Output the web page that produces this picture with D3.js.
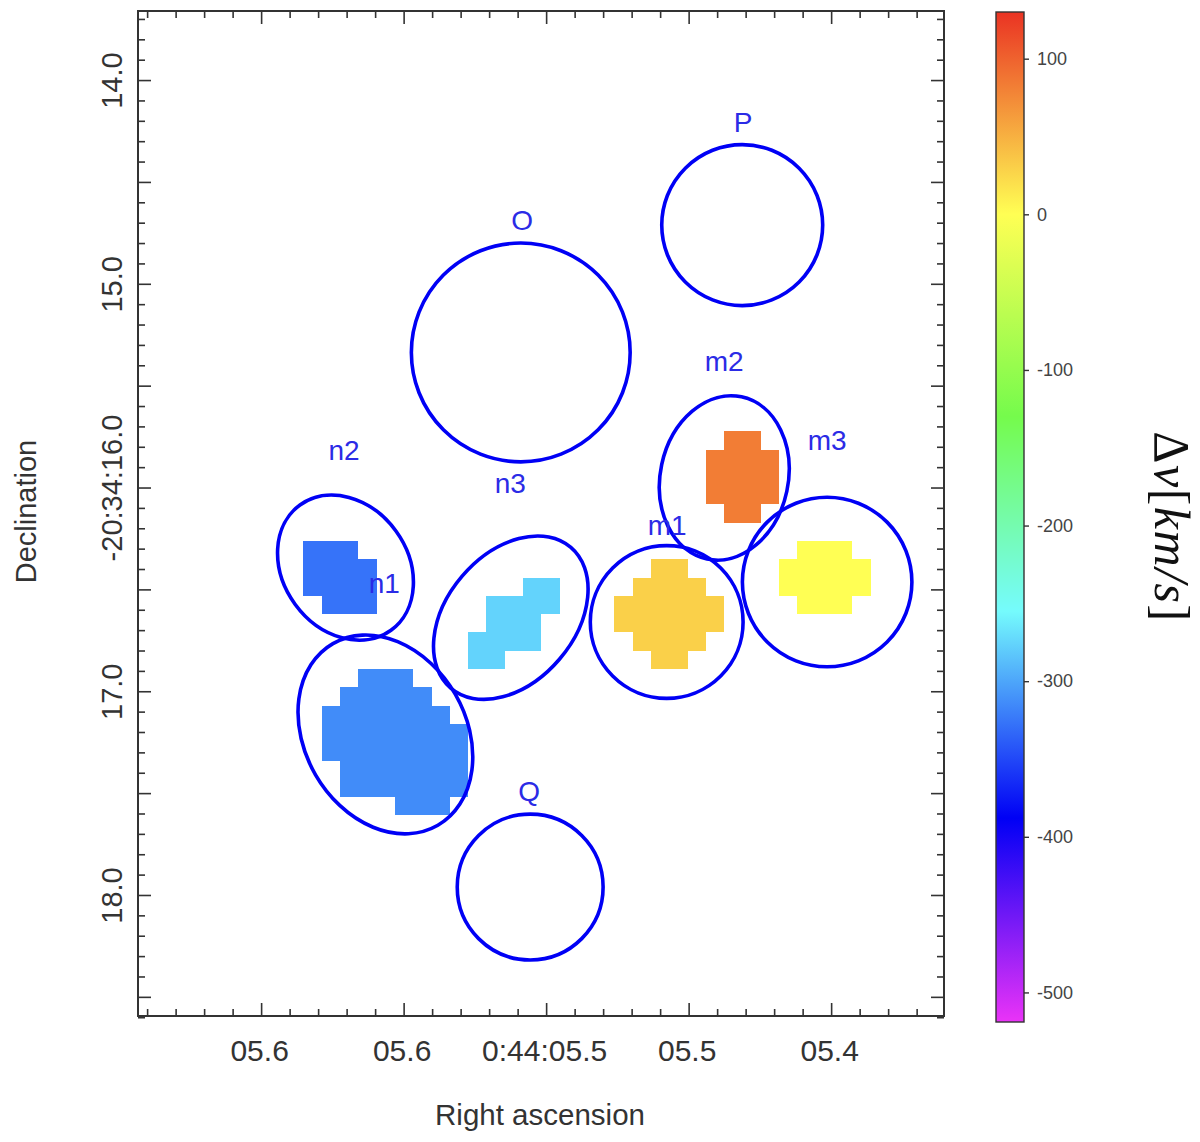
<!DOCTYPE html>
<html>
<head>
<meta charset="utf-8">
<script src="https://d3js.org/d3.v7.min.js"></script>
<style>
  html, body { margin: 0; padding: 0; background: #fff; }
  text { font-family: "Liberation Sans", sans-serif; }
</style>
</head>
<body>
<div id="graph"></div>
<script>
// axis ticks (RA seconds after 0:44, Dec arcsec after -20:34)
const raMajor = [5.6, 5.55, 5.5, 5.45, 5.4];
const raLabels = ["05.6", "05.6", "0:44:05.5", "05.5", "05.4"];
const decMajor = [14, 14.5, 15, 15.5, 16, 16.5, 17, 17.5, 18, 18.5];
const decLabels = {14: "14.0", 15: "15.0", 16: "-20:34:16.0", 17: "17.0", 18: "18.0"};
const cbarTicks = [100, 0, -100, -200, -300, -400, -500];

// colour bar stops
const cbarValues = [-519, -388, -255, -130, 0, 130];
const cbarColors = ["#ea33f7", "#0000f5", "#75fbfd", "#75fb4c", "#ffff54", "#ea3323"];

// apertures: ra, dec, semi axis along, semi axis across (arcsec), tilt in degrees
const apertures = [
  [5.4312, 14.712, 0.395, 0.395, 0],
  [5.5089, 15.337, 0.537, 0.537, 0],
  [5.5056, 17.961, 0.358, 0.358, 0],
  [5.4577, 16.660, 0.375, 0.375, 0],
  [5.4375, 15.953, 0.407, 0.314, 12],
  [5.4014, 16.464, 0.416, 0.416, 0],
  [5.5564, 17.212, 0.515, 0.396, -30],
  [5.5704, 16.393, 0.380, 0.306, -36],
  [5.5124, 16.639, 0.454, 0.314, 40.5]
];

// labels: text, ra, dec
const labelNames = ["P", "O", "Q", "m1", "m2", "m3", "n1", "n2", "n3"];
const labelRa = [5.4309, 5.5084, 5.5060, 5.4575, 5.4375, 5.4014, 5.5568, 5.5709, 5.5126];
const labelDec = [14.206, 14.69, 17.49, 16.184, 15.38, 15.77, 16.47, 15.82, 15.98];

// velocity map cells: grid row, first col, end col
const cellValues = [83, 30, 0, -276, -314, -327];
const cellRows = [
  [[-6, 23, 25], [-5, 22, 26], [-4, 22, 26], [-3, 22, 26], [-2, 23, 25]],
  [[1, 19, 21], [2, 18, 22], [3, 17, 23], [4, 17, 23], [5, 18, 22], [6, 19, 21]],
  [[0, 27, 30], [1, 26, 31], [2, 26, 31], [3, 27, 30]],
  [[2, 12, 14], [3, 10, 14], [4, 10, 13], [5, 9, 13], [6, 9, 11]],
  [[7, 3, 6], [8, 2, 7], [9, 1, 8], [10, 1, 9], [11, 1, 9], [12, 2, 9], [13, 2, 9], [14, 5, 8]],
  [[0, 0, 3], [1, 0, 4], [2, 0, 4], [3, 1, 4]]
];
const gridRa0 = 5.58516, gridDec0 = 16.2626, gridRaStep = 0.00642, gridDecStep = 0.0898;

const width = 1200, height = 1142;
const left = 138, right = 944, top_ = 11, bottom = 1016;
const ink = "#333";
const blue = "#0000f5";

const svg = d3.select("#graph").append("svg")
    .attr("width", width)
    .attr("height", height)
    .style("display", "block");

const x = d3.scaleLinear().domain([5.6432, 5.3604]).range([left, right]);
const y = d3.scaleLinear().domain([13.661, 18.594]).range([top_, bottom]);
const pxPerArcsec = y(1) - y(0);

const colour = d3.scaleLinear().domain(cbarValues).range(cbarColors);

// velocity cells
cellRows.forEach((rows, i) => {
  svg.append("g").selectAll("rect")
      .data(rows)
      .enter().append("rect")
      .attr("x", d => x(gridRa0 - d[1] * gridRaStep))
      .attr("y", d => y(gridDec0 + d[0] * gridDecStep))
      .attr("width", d => x(gridRa0 - d[2] * gridRaStep) - x(gridRa0 - d[1] * gridRaStep))
      .attr("height", y(gridDec0 + gridDecStep) - y(gridDec0))
      .attr("shape-rendering", "crispEdges")
      .attr("fill", colour(cellValues[i]));
});

// aperture outlines
svg.append("g").selectAll("ellipse")
    .data(apertures)
    .enter().append("ellipse")
    .attr("transform", d => `translate(${x(d[0])},${y(d[1])}) rotate(${d[4]})`)
    .attr("rx", d => d[3] * pxPerArcsec)
    .attr("ry", d => d[2] * pxPerArcsec)
    .attr("fill", "none")
    .attr("stroke", blue)
    .attr("stroke-width", 3.6);

svg.append("g").selectAll("text")
    .data(labelNames)
    .enter().append("text")
    .attr("x", (d, i) => x(labelRa[i]))
    .attr("y", (d, i) => y(labelDec[i]))
    .attr("text-anchor", "middle")
    .attr("dominant-baseline", "central")
    .attr("font-size", 28)
    .attr("fill", "#2b2be6")
    .text(d => d);

// frame and ticks on all four sides
const raMinor = d3.range(5.37, 5.645, 0.01).filter(v => !raMajor.some(m => Math.abs(m - v) < 1e-6));
const decMinor = d3.range(13.7, 18.6, 0.1).filter(v => !decMajor.some(m => Math.abs(m - v) < 1e-6));

function drawTicks(axis, pos, values, size, labels) {
  const g = svg.append("g")
      .attr("transform", pos)
      .call(axis.tickValues(values).tickSizeInner(-size).tickSizeOuter(0).tickFormat(labels || ""));
  g.select(".domain").remove();
  g.selectAll(".tick line").attr("stroke", ink).attr("stroke-width", 1.6);
  return g;
}

drawTicks(d3.axisBottom(x), `translate(0,${bottom})`, raMinor, 7);
drawTicks(d3.axisTop(x), `translate(0,${top_})`, raMinor, 7);
drawTicks(d3.axisLeft(y), `translate(${left},0)`, decMinor, 7);
drawTicks(d3.axisRight(y), `translate(${right},0)`, decMinor, 7);
drawTicks(d3.axisTop(x), `translate(0,${top_})`, raMajor, 13);
drawTicks(d3.axisRight(y), `translate(${right},0)`, decMajor, 13);

drawTicks(d3.axisBottom(x), `translate(0,${bottom})`, raMajor, 13, (d, i) => raLabels[i])
  .selectAll("text")
    .attr("x", -2)
    .attr("y", 34)
    .attr("dy", 0)
    .attr("dominant-baseline", "central")
    .attr("font-size", 30)
    .attr("fill", ink);

drawTicks(d3.axisLeft(y), `translate(${left},0)`, decMajor, 13, d => decLabels[d] || "")
  .selectAll("text")
    .attr("text-anchor", "middle")
    .attr("dominant-baseline", "central")
    .attr("dy", 0)
    .attr("x", 0)
    .attr("y", 0)
    .attr("transform", "translate(-26,0) rotate(-90)")
    .attr("font-size", 29)
    .attr("fill", ink);

svg.append("rect")
    .attr("x", left).attr("y", top_)
    .attr("width", right - left).attr("height", bottom - top_)
    .attr("fill", "none")
    .attr("stroke", ink)
    .attr("stroke-width", 2);

svg.append("text")
    .attr("x", 540).attr("y", 1114)
    .attr("text-anchor", "middle")
    .attr("dominant-baseline", "central")
    .attr("font-size", 29.5)
    .attr("fill", ink)
    .text("Right ascension");

svg.append("text")
    .attr("transform", "translate(26,511.5) rotate(-90)")
    .attr("text-anchor", "middle")
    .attr("dominant-baseline", "central")
    .attr("font-size", 29)
    .attr("fill", ink)
    .text("Declination");

// colour bar
const cbarX = 996, cbarW = 28, cbarTop = 12, cbarBottom = 1022;
const cbarScale = d3.scaleLinear().domain([130, -519]).range([cbarTop, cbarBottom]);

const grad = svg.append("defs").append("linearGradient")
    .attr("id", "cbar")
    .attr("x1", 0).attr("y1", 1).attr("x2", 0).attr("y2", 0);
grad.selectAll("stop")
    .data(cbarValues)
    .enter().append("stop")
    .attr("offset", d => (d + 519) / 649)
    .attr("stop-color", (d, i) => cbarColors[i]);

svg.append("rect")
    .attr("x", cbarX).attr("y", cbarTop)
    .attr("width", cbarW).attr("height", cbarBottom - cbarTop)
    .attr("fill", "url(#cbar)")
    .attr("stroke", ink)
    .attr("stroke-width", 1.4);

const cbarAxis = svg.append("g")
    .attr("transform", `translate(${cbarX + cbarW},0)`)
    .call(d3.axisRight(cbarScale).tickValues(cbarTicks).tickSizeInner(5).tickSizeOuter(0).tickPadding(8).tickFormat(String));
cbarAxis.select(".domain").remove();
cbarAxis.selectAll(".tick line").attr("stroke", ink).attr("stroke-width", 1.4);
cbarAxis.selectAll("text").attr("font-size", 18).attr("fill", "#444").attr("font-family", "Liberation Sans");

const cbarTitle = svg.append("text")
    .attr("transform", "translate(1172,527) rotate(90)")
    .attr("text-anchor", "middle")
    .attr("dominant-baseline", "central")
    .attr("font-size", 50)
    .attr("letter-spacing", 1.5)
    .attr("fill", "#111")
    .style("font-family", "'Liberation Serif', serif");
cbarTitle.append("tspan").text("Δ");
cbarTitle.append("tspan").attr("font-style", "italic").text("v");
cbarTitle.append("tspan").text("[");
cbarTitle.append("tspan").attr("font-style", "italic").text("km/s");
cbarTitle.append("tspan").text("]");
</script>
</body>
</html>
